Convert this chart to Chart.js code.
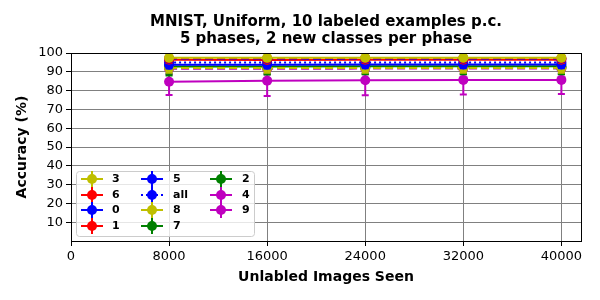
<!DOCTYPE html>
<html><head><meta charset="utf-8">
<script src="https://cdn.jsdelivr.net/npm/chart.js@4.4.1/dist/chart.umd.min.js"></script>
<style>html,body{margin:0;padding:0;background:#fff}#w{width:600px;height:300px}</style>
</head><body><div id="w"><canvas id="c" width="600" height="300"></canvas></div>
<script>
// ---- data ----
const xValues = [8000, 16000, 24000, 32000, 40000];
const xTicks = [0, 8000, 16000, 24000, 32000, 40000];
const yTicks = [10, 20, 30, 40, 50, 60, 70, 80, 90, 100];
const titleLines = ['MNIST, Uniform, 10 labeled examples p.c.', '5 phases, 2 new classes per phase'];
const xTitle = 'Unlabled Images Seen';
const yTitle = 'Accuracy (%)';

const seriesNames = ['3', '6', '0', '1', '5', 'all', '8', '7', '2', '4', '9'];
const s3   = [97.5, 97.5, 97.5, 97.5, 97.5];
const s6   = [97.1, 97.1, 97.2, 97.2, 97.2];
const s0   = [96.8, 96.8, 96.9, 96.9, 96.9];
const s1   = [96.4, 96.3, 96.4, 96.4, 96.4];
const s5   = [93.8, 93.8, 93.9, 93.9, 93.9];
const sAll = [95.0, 95.0, 95.0, 95.0, 95.0];
const s8   = [92.0, 92.0, 92.0, 92.0, 92.0];
const s7   = [92.8, 92.8, 92.9, 92.9, 92.9];
const s2   = [92.4, 92.4, 92.4, 92.4, 92.4];
const s4   = [91.6, 91.6, 91.7, 91.7, 91.7];
const s9   = [84.7, 85.3, 85.5, 85.7, 85.7];
const e3   = [1.0, 1.0, 1.0, 1.0, 1.0];
const e6   = [1.2, 1.2, 1.2, 1.2, 1.2];
const e0   = [1.5, 1.5, 1.5, 1.5, 1.5];
const e1   = [1.4, 1.4, 1.4, 1.4, 1.4];
const e5   = [2.0, 2.0, 2.0, 2.0, 2.0];
const eAll = [0.8, 0.8, 0.8, 0.8, 0.8];
const e8   = [2.5, 2.5, 2.5, 2.5, 2.5];
const e7   = [4.8, 4.2, 4.2, 4.2, 4.2];
const e2   = [3.5, 3.5, 3.5, 3.5, 3.5];
const e4   = [3.0, 3.0, 3.0, 3.0, 3.0];
const e9   = [7.0, 8.2, 8.0, 7.8, 7.5];

const seriesValues = [s3, s6, s0, s1, s5, sAll, s8, s7, s2, s4, s9];
const seriesErrors = [e3, e6, e0, e1, e5, eAll, e8, e7, e2, e4, e9];
const seriesColors = ['#bfbf00', '#ff0000', '#0000ff', '#ff0000', '#0000ff', '#0000ff', '#bfbf00', '#008000', '#008000', '#bf00bf', '#bf00bf'];
const seriesDash = [[], [8, 4], [8, 4], [], [], [2, 3], [8, 4], [], [8, 4], [8, 4], []];

const FONT = '"DejaVu Sans", sans-serif';

const datasets = seriesNames.map((n, k) => ({
  label: n,
  data: xValues.map((x, i) => ({ x: x, y: seriesValues[k][i] })),
  errors: seriesErrors[k],
  borderColor: seriesColors[k],
  backgroundColor: seriesColors[k],
  pointBackgroundColor: seriesColors[k],
  pointBorderColor: seriesColors[k],
  pointBorderWidth: 0,
  pointRadius: 5,
  pointHoverRadius: 5,
  borderWidth: 2,
  borderDash: seriesDash[k],
  tension: 0,
  fill: false
}));

const errorBars = {
  id: 'errorBars',
  beforeDatasetDraw(chart, args) {
    const ds = chart.data.datasets[args.index];
    const xs = chart.scales.x, ys = chart.scales.y, ctx = chart.ctx;
    const a = chart.chartArea;
    ctx.save();
    ctx.beginPath(); ctx.rect(a.left, a.top, a.right - a.left, a.bottom - a.top); ctx.clip();
    ctx.strokeStyle = ds.borderColor; ctx.lineWidth = 2; ctx.setLineDash([]);
    ds.data.forEach((p, i) => {
      const e = ds.errors[i];
      const px = xs.getPixelForValue(p.x);
      const y1 = ys.getPixelForValue(p.y - e), y2 = ys.getPixelForValue(p.y + e);
      ctx.beginPath();
      ctx.moveTo(px, y1); ctx.lineTo(px, y2);
      ctx.moveTo(px - 3.5, y1); ctx.lineTo(px + 3.5, y1);
      ctx.moveTo(px - 3.5, y2); ctx.lineTo(px + 3.5, y2);
      ctx.stroke();
    });
    ctx.restore();
  }
};

const decor = {
  id: 'decor',
  afterDraw(chart) {
    const ctx = chart.ctx, a = chart.chartArea;
    ctx.save();
    // frame
    ctx.strokeStyle = '#000'; ctx.lineWidth = 1; ctx.setLineDash([]);
    ctx.strokeRect(Math.round(a.left) + 0.5, Math.round(a.top) + 0.5, Math.round(a.right - a.left), Math.round(a.bottom - a.top));
    // title
    ctx.fillStyle = '#000';
    ctx.textAlign = 'center'; ctx.textBaseline = 'middle';
    ctx.font = 'bold 15px ' + FONT;
    const cx = (a.left + a.right) / 2;
    ctx.fillText(titleLines[0], cx, 22);
    ctx.fillText(titleLines[1], cx, 39);
    // axis titles
    ctx.font = 'bold 14px ' + FONT;
    ctx.fillText(xTitle, cx, 277);
    ctx.save();
    ctx.translate(22, (a.top + a.bottom) / 2);
    ctx.rotate(-Math.PI / 2);
    ctx.fillText(yTitle, 0, 0);
    ctx.restore();
    // legend
    const bx = 76.5, by = 171.5, bw = 178, bh = 65, r = 3;
    ctx.beginPath();
    ctx.moveTo(bx + r, by); ctx.lineTo(bx + bw - r, by); ctx.arcTo(bx + bw, by, bx + bw, by + r, r);
    ctx.lineTo(bx + bw, by + bh - r); ctx.arcTo(bx + bw, by + bh, bx + bw - r, by + bh, r);
    ctx.lineTo(bx + r, by + bh); ctx.arcTo(bx, by + bh, bx, by + bh - r, r);
    ctx.lineTo(bx, by + r); ctx.arcTo(bx, by, bx + r, by, r); ctx.closePath();
    ctx.fillStyle = 'rgba(255,255,255,0.8)'; ctx.fill();
    ctx.strokeStyle = '#cccccc'; ctx.lineWidth = 1; ctx.stroke();
    const colX = [81, 141, 210], labX = [112, 173, 242], rowY = [179, 195, 210, 226];
    ctx.font = 'bold 11px ' + FONT; ctx.textAlign = 'left'; ctx.textBaseline = 'middle';
    chart.data.datasets.forEach((ds, k) => {
      const col = Math.floor(k / 4), row = k % 4;
      const x0 = colX[col], y = rowY[row], x1 = x0 + 22, mx = x0 + 11;
      ctx.strokeStyle = ds.borderColor; ctx.fillStyle = ds.borderColor; ctx.lineWidth = 2;
      ctx.setLineDash(seriesDash[k].length && seriesDash[k][0] < 4 ? seriesDash[k] : []);
      ctx.beginPath(); ctx.moveTo(x0, y); ctx.lineTo(x1, y); ctx.stroke();
      ctx.setLineDash([]);
      ctx.beginPath(); ctx.moveTo(mx, y - 8); ctx.lineTo(mx, y + 8); ctx.stroke();
      ctx.beginPath(); ctx.arc(mx, y, 5, 0, Math.PI * 2); ctx.fill();
      ctx.fillStyle = '#000';
      ctx.fillText(ds.label, labX[col], y + 0.5);
    });
    ctx.restore();
  }
};

new Chart(document.getElementById('c'), {
  type: 'line',
  data: { datasets: datasets },
  options: {
    responsive: false,
    animation: false,
    devicePixelRatio: 1,
    layout: { padding: { left: 0, right: 19, top: 53, bottom: 0 } },
    plugins: { legend: { display: false }, title: { display: false }, tooltip: { enabled: false } },
    scales: {
      x: {
        type: 'linear', min: 0, max: 41600,
        afterBuildTicks: s => { s.ticks = xTicks.map(v => ({ value: v })); },
        afterFit: s => { s.height = 59; },
        grid: { color: '#808080', lineWidth: 1, tickLength: 5, tickColor: '#000' },
        border: { color: '#000', width: 1 },
        ticks: { color: '#000', font: { family: FONT, size: 13 }, padding: 3, maxRotation: 0, autoSkip: false, callback: v => String(v) }
      },
      y: {
        type: 'linear', min: 0, max: 100,
        afterBuildTicks: s => { s.ticks = yTicks.map(v => ({ value: v })); },
        afterFit: s => { s.width = 71; },
        grid: { color: '#808080', lineWidth: 1, tickLength: 5, tickColor: '#000' },
        border: { color: '#000', width: 1 },
        ticks: { color: '#000', font: { family: FONT, size: 13 }, padding: 3, autoSkip: false, callback: v => String(v) }
      }
    }
  },
  plugins: [errorBars, decor]
});
</script>
</body></html>
